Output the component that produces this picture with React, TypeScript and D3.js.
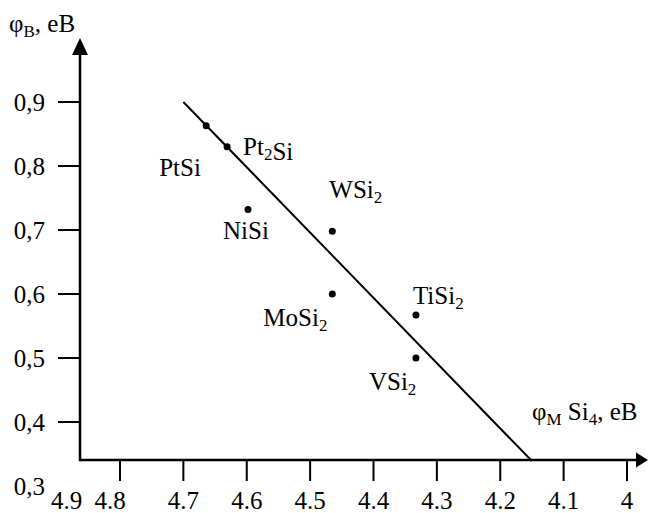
import React, { useEffect, useRef } from 'react';
import { select, scaleLinear, line } from 'd3';

// silicides: metal work function (eB) vs Schottky barrier height (eB)
const compounds = ['PtSi', 'Pt2Si', 'NiSi', 'WSi2', 'MoSi2', 'TiSi2', 'VSi2'];
const workFunction = [4.664, 4.631, 4.598, 4.465, 4.465, 4.333, 4.333];
const barrierHeight = [0.863, 0.83, 0.732, 0.698, 0.6, 0.567, 0.5];

// fitted straight line, ends on the x axis
const fitX = [4.7, 4.15];
const fitY = [0.9, 0.339];

const xTicks = [4.8, 4.7, 4.6, 4.5, 4.4, 4.3, 4.2, 4.1, 4.0];
const xTickLabels = ['4.9', '4.8', '4.7', '4.6', '4.5', '4.4', '4.3', '4.2', '4.1', '4'];
const xLabelValues = [4.9, 4.8, 4.7, 4.6, 4.5, 4.4, 4.3, 4.2, 4.1, 4.0];
const yTicks = [0.9, 0.8, 0.7, 0.6, 0.5, 0.4];
const yTickLabels = ['0,9', '0,8', '0,7', '0,6', '0,5', '0,4', '0,3'];
const yLabelValues = [0.9, 0.8, 0.7, 0.6, 0.5, 0.4, 0.3];

const width = 648;
const height = 513;
const font = 'Liberation Serif, Tinos, Times New Roman, serif';

// label placement relative to each point (layout only)
const labelOffset = [
  [-47, 50],
  [16, 8],
  [-25, 29],
  [-3, -33],
  [-69, 32],
  [-3, -11],
  [-47, 32],
];
// the first two x labels sit a little off their tick
const xLabelShift = [10, -10, 0, 0, 0, 0, 0, 0, 0, 0];

function addSubText(t, str) {
  // digits become subscripts
  const parts = str.match(/\d+|\D+/g) || [];
  parts.forEach((p) => {
    const sub = /\d/.test(p);
    t.append('tspan')
      .style('font-size', sub ? '17px' : '25px')
      .attr('dy', sub ? 5 : 0)
      .text(p);
    if (sub) t.append('tspan').attr('dy', -5).text('');
  });
}

function Chart() {
  const svgRef = useRef(null);

  useEffect(() => {
    const svg = select(svgRef.current);
    svg.selectAll('*').remove();

    const axisX = 80;
    const axisY = 460;

    const x = scaleLinear().domain([4.8, 4.0]).range([120, 627]);
    const y = scaleLinear().domain([0.9, 0.3]).range([102, 486]);

    const g = svg.append('g').style('font-family', font).style('font-size', '25px').attr('fill', '#000');

    // axes lines
    g.append('line')
      .attr('x1', axisX)
      .attr('x2', axisX)
      .attr('y1', axisY + 1.25)
      .attr('y2', 52)
      .attr('stroke', '#000')
      .attr('stroke-width', 2.5);
    g.append('line')
      .attr('x1', axisX)
      .attr('x2', 638)
      .attr('y1', axisY)
      .attr('y2', axisY)
      .attr('stroke', '#000')
      .attr('stroke-width', 2.5);
    g.append('path')
      .attr('d', `M${axisX},38 L${axisX - 8},55 L${axisX + 8},55 Z`)
      .attr('fill', '#000');
    g.append('path')
      .attr('d', `M648,${axisY} L636,${axisY - 7.5} L636,${axisY + 7.5} Z`)
      .attr('fill', '#000');

    // y ticks
    g.selectAll('.ytick')
      .data(yTicks)
      .enter()
      .append('line')
      .attr('x1', axisX - 22)
      .attr('x2', axisX)
      .attr('y1', (d) => y(d))
      .attr('y2', (d) => y(d))
      .attr('stroke', '#000')
      .attr('stroke-width', 2);
    g.selectAll('.ylabel')
      .data(yLabelValues)
      .enter()
      .append('text')
      .attr('x', 45)
      .attr('y', (d) => y(d))
      .attr('dy', '0.35em')
      .attr('text-anchor', 'end')
      .text((d, i) => yTickLabels[i]);

    // x ticks
    g.selectAll('.xtick')
      .data(xTicks)
      .enter()
      .append('line')
      .attr('x1', (d) => x(d))
      .attr('x2', (d) => x(d))
      .attr('y1', axisY)
      .attr('y2', axisY + 21)
      .attr('stroke', '#000')
      .attr('stroke-width', 2);
    g.selectAll('.xlabel')
      .data(xLabelValues)
      .enter()
      .append('text')
      .attr('x', (d, i) => x(d) + xLabelShift[i])
      .attr('y', 509)
      .attr('text-anchor', 'middle')
      .text((d, i) => xTickLabels[i]);

    // fitted line
    const fit = line()
      .x((d) => x(d[0]))
      .y((d) => y(d[1]));
    g.append('path')
      .attr('d', fit(fitX.map((v, i) => [v, fitY[i]])))
      .attr('fill', 'none')
      .attr('stroke', '#000')
      .attr('stroke-width', 2);

    // points and labels
    compounds.forEach((name, i) => {
      const cx = x(workFunction[i]);
      const cy = y(barrierHeight[i]);
      g.append('circle').attr('cx', cx).attr('cy', cy).attr('r', 3.5);
      const t = g
        .append('text')
        .attr('x', cx + labelOffset[i][0])
        .attr('y', cy + labelOffset[i][1]);
      addSubText(t, name);
    });

    // axis titles
    const yt = g.append('text').attr('x', 9).attr('y', 32);
    yt.append('tspan').text('φ');
    yt.append('tspan').style('font-size', '17px').attr('dy', 5).text('B');
    yt.append('tspan').attr('dy', -5).text(', eB');

    const xt = g.append('text').attr('x', 532).attr('y', 420);
    xt.append('tspan').text('φ');
    xt.append('tspan').style('font-size', '17px').attr('dy', 5).text('M');
    xt.append('tspan').attr('dy', -5).text(' Si');
    xt.append('tspan').style('font-size', '17px').attr('dy', 5).text('4');
    xt.append('tspan').attr('dy', -5).text(', eB');
  }, []);

  return (
    <svg
      ref={svgRef}
      width={width}
      height={height}
      style={{ position: 'absolute', left: 0, top: 0, background: '#fff' }}
    />
  );
}

export default function App() {
  return <Chart />;
}
